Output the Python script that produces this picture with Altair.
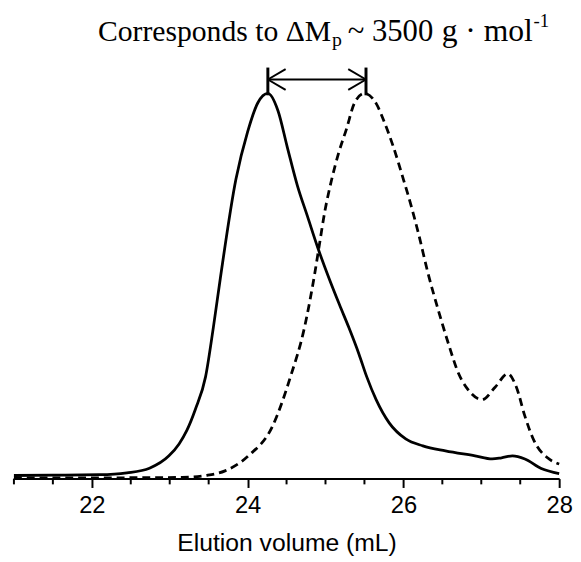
import altair as alt
import pandas as pd

# Solid curve (before)
solid_x = [21.0, 21.5, 22.1, 22.45, 22.74, 22.99, 23.12, 23.22, 23.33, 23.46, 23.56, 23.65, 23.85, 24.0, 24.13, 24.26,
           24.39, 24.51, 24.64, 24.77, 24.90, 25.045, 25.18, 25.30, 25.43, 25.53, 25.65, 25.82, 26.03, 26.25,
           26.54, 26.92, 27.14, 27.26, 27.40, 27.56, 27.77, 28.0]
solid_y = [0.008, 0.009, 0.010, 0.015, 0.027, 0.059, 0.09, 0.125, 0.18, 0.264, 0.392, 0.52, 0.777, 0.90, 0.975, 1.0,
           0.955, 0.86, 0.76, 0.68, 0.60, 0.520, 0.451, 0.392, 0.323, 0.264, 0.205, 0.144, 0.103, 0.085,
           0.072, 0.059, 0.051, 0.054, 0.059, 0.051, 0.026, 0.013]

# Dashed curve (after)
dash_x = [21.0, 22.0, 23.16, 23.46, 23.71, 24.01, 24.32, 24.55, 24.73, 24.86, 24.92, 24.99, 25.08, 25.17, 25.27,
          25.37, 25.50, 25.65, 25.76, 25.87, 26.00, 26.10, 26.20, 26.31, 26.45, 26.58, 26.71, 26.83, 27.01,
          27.18, 27.34, 27.45, 27.56, 27.68, 27.85, 28.0]
dash_y = [0.002, 0.002, 0.003, 0.008, 0.020, 0.059, 0.136, 0.264, 0.392, 0.53, 0.605, 0.692, 0.777, 0.846, 0.908,
          0.974, 1.0, 0.974, 0.923, 0.862, 0.777, 0.708, 0.631, 0.538, 0.436, 0.349, 0.272, 0.231, 0.205,
          0.238, 0.272, 0.238, 0.162, 0.097, 0.054, 0.038]

major_ticks = [22, 24, 26, 28]
minor_ticks = [21, 21.5, 22.5, 23, 23.5, 24.5, 25, 25.5, 26.5, 27, 27.5]

peak_before = 24.26
peak_after = 25.52

X = alt.Scale(domain=[21, 28], nice=False)
Y = alt.Scale(domain=[0, 1.2103], nice=False, zero=True)

solid_df = pd.DataFrame({"v": solid_x, "s": solid_y})
dash_df = pd.DataFrame({"v": dash_x, "s": dash_y})

xaxis = alt.Axis(values=major_ticks, format="d", tickSize=9, tickWidth=2, tickColor="black",
                 domainWidth=2, domainColor="black", grid=False, labelFlush=False,
                 title="Elution volume (mL)")

solid = alt.Chart(solid_df).mark_line(color="black", strokeWidth=2.8, interpolate="monotone").encode(
    x=alt.X("v:Q", scale=X, axis=xaxis),
    y=alt.Y("s:Q", scale=Y, axis=None),
)
dashed = alt.Chart(dash_df).mark_line(color="black", strokeWidth=2.8, strokeDash=[8, 5],
                                      interpolate="monotone").encode(
    x=alt.X("v:Q", scale=X, axis=xaxis),
    y=alt.Y("s:Q", scale=Y, axis=None),
)

minor_df = pd.DataFrame({"v": minor_ticks, "y0": [0.0] * len(minor_ticks), "y1": [-0.015] * len(minor_ticks)})
minor = alt.Chart(minor_df).mark_rule(color="black", strokeWidth=2).encode(
    x=alt.X("v:Q", scale=X, axis=xaxis), y=alt.Y("y0:Q", scale=Y, axis=None), y2="y1:Q")

# arrow annotation
ay = 1.036
hx = 0.228
hy = 0.027
seg = pd.DataFrame({
    "x1": [peak_before, peak_after, peak_before, peak_before, peak_before, peak_after, peak_after],
    "x2": [peak_before, peak_after, peak_after, peak_before + hx, peak_before + hx, peak_after - hx, peak_after - hx],
    "y1": [0.995, 0.995, ay, ay, ay, ay, ay],
    "y2": [1.067, 1.067, ay, ay + hy, ay - hy, ay + hy, ay - hy],
    "w": [3, 3, 2, 2, 2, 2, 2],
})
arrows = alt.Chart(seg).mark_rule(color="black", strokeCap="butt").encode(
    x=alt.X("x1:Q", scale=X, axis=xaxis), x2="x2:Q",
    y=alt.Y("y1:Q", scale=Y, axis=None), y2="y2:Q",
    strokeWidth=alt.StrokeWidth("w:Q", scale=None, legend=None),
)

title_df = pd.DataFrame({
    "x": [25.071, 25.085, 25.286, 26.491, 27.67],
    "y": [1.136, 1.122, 1.136, 1.136, 1.172],
    "t": ["Corresponds to \u0394M", "p", "~ 3500", "g \u00b7 mol", "-1"],
    "size": [30, 20, 31, 32, 19],
    "al": ["right", "left", "left", "left", "left"],
})
t_parts = []
for i in range(len(title_df)):
    row = title_df.iloc[[i]]
    t_parts.append(alt.Chart(row).mark_text(font="Liberation Serif", fontSize=int(row["size"].iloc[0]),
                                            align=row["al"].iloc[0], baseline="alphabetic", color="black").encode(
        x=alt.X("x:Q", scale=X, axis=xaxis), y=alt.Y("y:Q", scale=Y, axis=None), text="t:N"))

chart = alt.layer(solid, dashed, minor, arrows, *t_parts).properties(
    width=552, height=472,
    padding={"left": 0, "top": 0, "right": 0, "bottom": 0},
).configure_view(stroke=None).configure_axisX(
    labelFont="Liberation Sans", labelFontSize=24, labelColor="black", labelPadding=6,
    titleFont="Liberation Sans", titleFontSize=25, titleFontWeight="normal", titleColor="black",
    titlePadding=14,
)

chart.save("out.html", embed_options={"renderer": "svg", "actions": False})
